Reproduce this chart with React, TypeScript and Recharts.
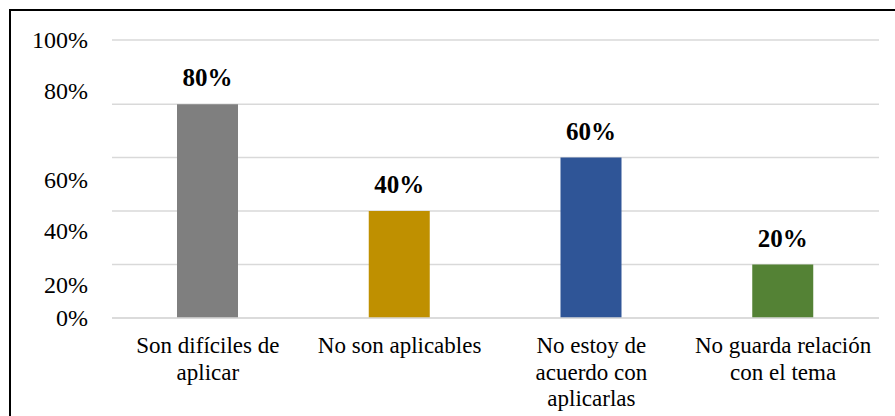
import { BarChart, Bar, XAxis, YAxis, CartesianGrid, Cell, LabelList } from 'recharts'

const CATEGORIES = [
  'Son difíciles de\naplicar',
  'No son aplicables',
  'No estoy de\nacuerdo  con\naplicarlas',
  'No guarda relación\ncon el tema',
]
const VALUES = [80, 40, 60, 20]
const BAR_COLORS = ['#7f7f7f', '#bf9000', '#2f5597', '#548235']
// the top gridline sits a little above 100 in the original, but reads "100%"
const Y_TICKS = [0, 20, 40, 60, 80, 104]
const Y_TICK_LABELS = ['0%', '20%', '40%', '60%', '80%', '100%']

const FONT = 'Liberation Serif'

const data = CATEGORIES.map((name, i) => ({ name, value: VALUES[i] }))

// the original's axis labels don't sit on their gridlines
const Y_LABEL_SHIFT = [8, 28, 28, 30, -5, 8]

const YTick = (props: any) => {
  const { x, y, index } = props
  return (
    <text x={x} y={y + Y_LABEL_SHIFT[index]} textAnchor="end" fontFamily={FONT} fontSize={24} fill="#000">
      {Y_TICK_LABELS[index]}
    </text>
  )
}

const XTick = (props: any) => {
  const { x, y, payload } = props
  const lines = String(payload.value).split('\n')
  return (
    <text x={x} y={y} textAnchor="middle" fontFamily={FONT} fontSize={23} fill="#000">
      {lines.map((line, i) => (
        <tspan key={i} x={x} dy={i === 0 ? 35 : 26.5}>
          {line}
        </tspan>
      ))}
    </text>
  )
}

export default function App() {
  return (
    <div>
      <style>{'body { margin: 0; }'}</style>
      <BarChart width={895} height={416} data={data} margin={{ top: 40, right: 16, left: 0, bottom: 0 }}>
        <rect x={10} y={10} width={900} height={420} fill="none" stroke="#000" strokeWidth={2} />
        <CartesianGrid vertical={false} stroke="#d9d9d9" strokeWidth={1.5} />
        <XAxis
          dataKey="name"
          axisLine={{ stroke: '#d9d9d9', strokeWidth: 1.5 }}
          tickLine={false}
          tickSize={0}
          tickMargin={0}
          height={98}
          interval={0}
          tick={<XTick />}
        />
        <YAxis
          domain={[0, 104]}
          ticks={Y_TICKS}
          width={112}
          axisLine={false}
          tickLine={false}
          tickSize={0}
          tickMargin={24}
          tick={<YTick />}
        />
        <Bar dataKey="value" barSize={61} isAnimationActive={false}>
          {data.map((d, i) => (
            <Cell key={d.name} fill={BAR_COLORS[i]} />
          ))}
          <LabelList
            dataKey="value"
            position="top"
            offset={18}
            formatter={(v: any) => `${v}%`}
            fontFamily={FONT}
            fontSize={25}
            fontWeight="bold"
            fill="#000"
          />
        </Bar>
      </BarChart>
    </div>
  )
}
